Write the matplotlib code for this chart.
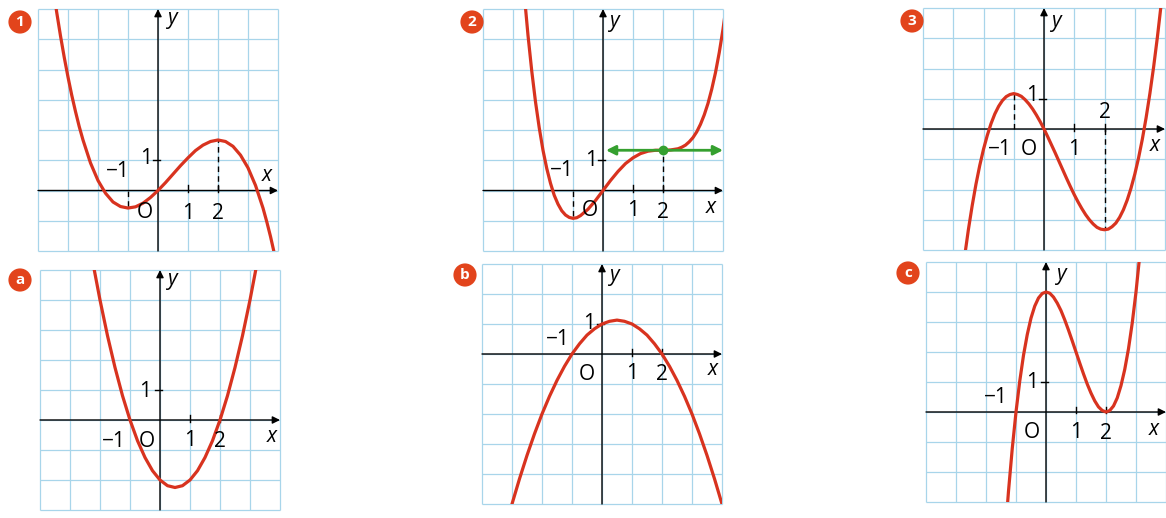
"""Six small function graphs (exercise 1-3, a-c) from a textbook page."""
import matplotlib
import matplotlib.pyplot as plt

matplotlib.use("Agg")

W, H = 1166, 518
RED = "#d8331f"
GRID = "#a8d5ea"
GREEN = "#35a02f"
BADGE = "#e2441c"
FONT = "Open Sans"

# curve samples
X1 = [-3.5, -3.375, -3.25, -3.125, -3.0, -2.875, -2.75, -2.625, -2.5, -2.25, -2.0, -1.75, -1.5,
      -1.25, -1.0, -0.75, -0.5, -0.25, 0.0, 0.25, 0.5, 0.75, 1.0, 1.25, 1.5, 1.75, 2.0, 2.25,
      2.5, 2.75, 3.0, 3.25, 3.5, 3.625, 3.75, 3.875, 4.0]
Y1 = [6.71, 5.88, 5.11, 4.40, 3.75, 3.15, 2.61, 2.11, 1.67, 0.91, 0.33, -0.09, -0.38,
      -0.53, -0.58, -0.54, -0.42, -0.23, 0.0, 0.26, 0.54, 0.82, 1.08, 1.32, 1.5, 1.62, 1.67, 1.62,
      1.46, 1.17, 0.75, 0.17, -0.58, -1.03, -1.52, -2.07, -2.67]
EXT1 = [(-1, -0.58), (2, 1.67)]

X2 = [-2.75, -2.625, -2.5, -2.375, -2.25, -2.125, -2.0, -1.875, -1.75, -1.625, -1.5, -1.375,
      -1.25, -1.125, -1.0, -0.875, -0.75, -0.5, -0.25, 0.0, 0.25, 0.5, 0.75, 1.0, 1.25, 1.5,
      1.75, 2.0, 2.25, 2.5, 2.625, 2.75, 2.875, 3.0, 3.125, 3.25, 3.375, 3.5, 3.625, 3.75,
      3.875, 4.0, 4.125, 4.25]
Y2 = [8.03, 6.49, 5.13, 3.95, 2.93, 2.07, 1.33, 0.73, 0.24, -0.16, -0.45, -0.67,
      -0.81, -0.89, -0.92, -0.90, -0.83, -0.62, -0.33, 0.0, 0.33, 0.63, 0.89, 1.08, 1.22, 1.3,
      1.33, 1.33, 1.34, 1.38, 1.43, 1.5, 1.61, 1.75, 1.94, 2.19, 2.50, 2.88, 3.35, 3.9,
      4.56, 5.33, 6.23, 7.26]
EXT2 = [(-1, -0.92), (2, 1.33)]
TANGENT2 = ([0.1, 4.0], 1.33)

X3 = [-2.75, -2.625, -2.5, -2.375, -2.25, -2.125, -2.0, -1.875, -1.75, -1.625, -1.5, -1.375,
      -1.25, -1.125, -1.0, -0.875, -0.75, -0.625, -0.5, -0.375, -0.25, -0.125, 0.0, 0.125,
      0.25, 0.375, 0.5, 0.625, 0.75, 0.875, 1.0, 1.125, 1.25, 1.375, 1.5, 1.625, 1.75, 1.875,
      2.0, 2.125, 2.25, 2.375, 2.5, 2.625, 2.75, 2.875, 3.0, 3.125, 3.25, 3.375, 3.5, 3.625,
      3.75, 3.875, 4.0]
Y3 = [-5.21, -4.22, -3.33, -2.54, -1.83, -1.21, -0.67, -0.21, 0.18, 0.50, 0.75, 0.94,
      1.07, 1.14, 1.17, 1.14, 1.08, 0.97, 0.83, 0.66, 0.46, 0.24, 0.0, -0.26,
      -0.53, -0.80, -1.08, -1.36, -1.64, -1.91, -2.17, -2.41, -2.63, -2.83, -3.0, -3.14, -3.25, -3.31,
      -3.33, -3.31, -3.23, -3.11, -2.92, -2.67, -2.35, -1.96, -1.5, -0.96, -0.34, 0.37, 1.17, 2.06,
      3.05, 4.14, 5.33]
EXT3 = [(-1, 1.17), (2, -3.33)]

XA = [-2.5, -2.25, -2.0, -1.75, -1.5, -1.25, -1.0, -0.75, -0.5, -0.25, 0.0, 0.25, 0.5, 0.75,
      1.0, 1.25, 1.5, 1.75, 2.0, 2.25, 2.5, 2.75, 3.0, 3.25, 3.5]
YA = [6.75, 5.31, 4.0, 2.81, 1.75, 0.81, 0.0, -0.69, -1.25, -1.69, -2.0, -2.19, -2.25, -2.19,
      -2.0, -1.69, -1.25, -0.69, 0.0, 0.81, 1.75, 2.81, 4.0, 5.31, 6.75]

XB = [-3.25, -3.0, -2.75, -2.5, -2.25, -2.0, -1.75, -1.5, -1.25, -1.0, -0.75, -0.5, -0.25, 0.0,
      0.25, 0.5, 0.75, 1.0, 1.25, 1.5, 1.75, 2.0, 2.25, 2.5, 2.75, 3.0, 3.25, 3.5, 3.75, 4.0, 4.25]
YB = [-5.91, -5.0, -4.16, -3.38, -2.66, -2.0, -1.41, -0.88, -0.41, 0.0, 0.34, 0.63, 0.84, 1.0,
      1.09, 1.13, 1.09, 1.0, 0.84, 0.63, 0.34, 0.0, -0.41, -0.88, -1.41, -2.0, -2.66, -3.38, -4.16, -5.0, -5.91]

XC = [-1.5, -1.375, -1.25, -1.125, -1.0, -0.875, -0.75, -0.625, -0.5, -0.375, -0.25, -0.125,
      0.0, 0.125, 0.25, 0.375, 0.5, 0.625, 0.75, 0.875, 1.0, 1.125, 1.25, 1.375, 1.5, 1.625,
      1.75, 1.875, 2.0, 2.125, 2.25, 2.375, 2.5, 2.625, 2.75, 2.875, 3.0, 3.125, 3.25]
YC = [-6.13, -4.27, -2.64, -1.22, 0.0, 1.03, 1.89, 2.58, 3.13, 3.53, 3.8, 3.95,
      4.0, 3.96, 3.83, 3.63, 3.38, 3.07, 2.73, 2.37, 2.0, 1.63, 1.27, 0.93, 0.63, 0.37,
      0.17, 0.05, 0.0, 0.05, 0.2, 0.47, 0.88, 1.42, 2.11, 2.97, 4.0, 5.22, 6.64]

BADGES = ["1", "2", "3", "a", "b", "c"]


def make_axes(fig, box, xlim, ylim):
    left, top, right, bottom = box
    ax = fig.add_axes([left / W, 1 - bottom / H, (right - left) / W, (bottom - top) / H])
    ax.set_xlim(xlim)
    ax.set_ylim(ylim)
    ax.axis("off")
    ax.vlines(range(xlim[0], xlim[1] + 1), ylim[0], ylim[1], color=GRID, lw=0.9, zorder=0, clip_on=False)
    ax.hlines(range(ylim[0], ylim[1] + 1), xlim[0], xlim[1], color=GRID, lw=0.9, zorder=0, clip_on=False)
    arrow = dict(arrowstyle="-|>", color="black", lw=1.0, mutation_scale=11, shrinkA=0, shrinkB=0)
    ax.annotate("", xy=(xlim[1], 0), xytext=(xlim[0], 0), arrowprops=arrow, zorder=2)
    ax.annotate("", xy=(0, ylim[1]), xytext=(0, ylim[0]), arrowprops=arrow, zorder=2)
    for tx in (1, 2):
        ax.plot([tx, tx], [-0.05, 0.17], color="black", lw=1.0, zorder=2)
    ax.plot([-0.17, 0.05], [1, 1], color="black", lw=1.0, zorder=2)
    return ax


def label(ax, x, y, s, italic=False):
    ax.text(x, y, s, ha="center", va="center", fontsize=15, family=FONT,
            style="italic" if italic else "normal", zorder=4)


def labels(ax, pos):
    texts = ["\u22121", "O", "1", "2", "1", "x", "y"]
    for s, (x, y) in zip(texts, pos):
        label(ax, x, y, s, italic=s in ("x", "y"))


def curve(ax, xs, ys):
    ax.plot(xs, ys, color=RED, lw=2.3, solid_joinstyle="round", zorder=3)


def dashed(ax, ext):
    for x, y in ext:
        ax.plot([x, x], [0, y], color="black", lw=1.0, dashes=(4, 3), zorder=2)


def main() -> None:
    fig = plt.figure(figsize=(W / 100, H / 100), dpi=100)

    ax = make_axes(fig, (38, 9, 278, 251), (-4, 4), (-2, 6))
    curve(ax, X1, Y1)
    dashed(ax, EXT1)
    labels(ax, [(-1.33, 0.62), (-0.45, -0.72), (1, -0.75), (2, -0.75), (-0.4, 1.05), (3.62, 0.5), (0.45, 5.7)])

    ax = make_axes(fig, (483, 9, 723, 251), (-4, 4), (-2, 6))
    curve(ax, X2, Y2)
    dashed(ax, EXT2)
    xs, ty = TANGENT2
    ax.annotate("", xy=(xs[1], ty), xytext=(xs[0], ty), zorder=4,
                arrowprops=dict(arrowstyle="<|-|>", color=GREEN, lw=2.0, mutation_scale=14,
                                shrinkA=0, shrinkB=0))
    ax.plot([2], [ty], "o", color=GREEN, ms=6, zorder=5)
    labels(ax, [(-1.38, 0.67), (-0.45, -0.67), (1, -0.65), (2, -0.72), (-0.4, 1.0), (3.6, -0.56), (0.35, 5.6)])

    ax = make_axes(fig, (923, 8, 1165, 250), (-4, 4), (-4, 4))
    curve(ax, X3, Y3)
    dashed(ax, EXT3)
    labels(ax, [(-1.45, -0.67), (-0.5, -0.67), (1, -0.67), (2.03, 0.56), (-0.4, 1.1), (3.67, -0.56), (0.4, 3.56)])

    ax = make_axes(fig, (40, 270, 280, 510), (-4, 4), (-3, 5))
    curve(ax, XA, YA)
    labels(ax, [(-1.55, -0.72), (-0.45, -0.72), (1, -0.67), (2, -0.72), (-0.5, 0.94), (3.72, -0.56), (0.4, 4.67)])

    ax = make_axes(fig, (482, 264, 722, 504), (-4, 4), (-5, 3))
    curve(ax, XB, YB)
    labels(ax, [(-1.47, 0.48), (-0.52, -0.69), (1, -0.65), (2, -0.69), (-0.42, 1.03), (3.7, -0.52), (0.38, 2.6)])

    ax = make_axes(fig, (926, 262, 1166, 502), (-4, 4), (-3, 5))
    curve(ax, XC, YC)
    labels(ax, [(-1.68, 0.47), (-0.47, -0.7), (1, -0.67), (2, -0.72), (-0.47, 0.97), (3.6, -0.59), (0.5, 4.58)])

    badge_xy = [(20, 22), (472, 22), (912, 21), (20, 280), (465, 275), (908, 273)]
    for s, (bx, by) in zip(BADGES, badge_xy):
        fig.text(bx / W, 1 - by / H, s, ha="center", va="center", fontsize=11, weight="bold",
                 color="white", family=FONT,
                 bbox=dict(boxstyle="circle,pad=0.3", fc=BADGE, ec="none"))

    fig.savefig("out.png", dpi=100, facecolor="white")
    plt.close(fig)


if __name__ == "__main__":
    main()
